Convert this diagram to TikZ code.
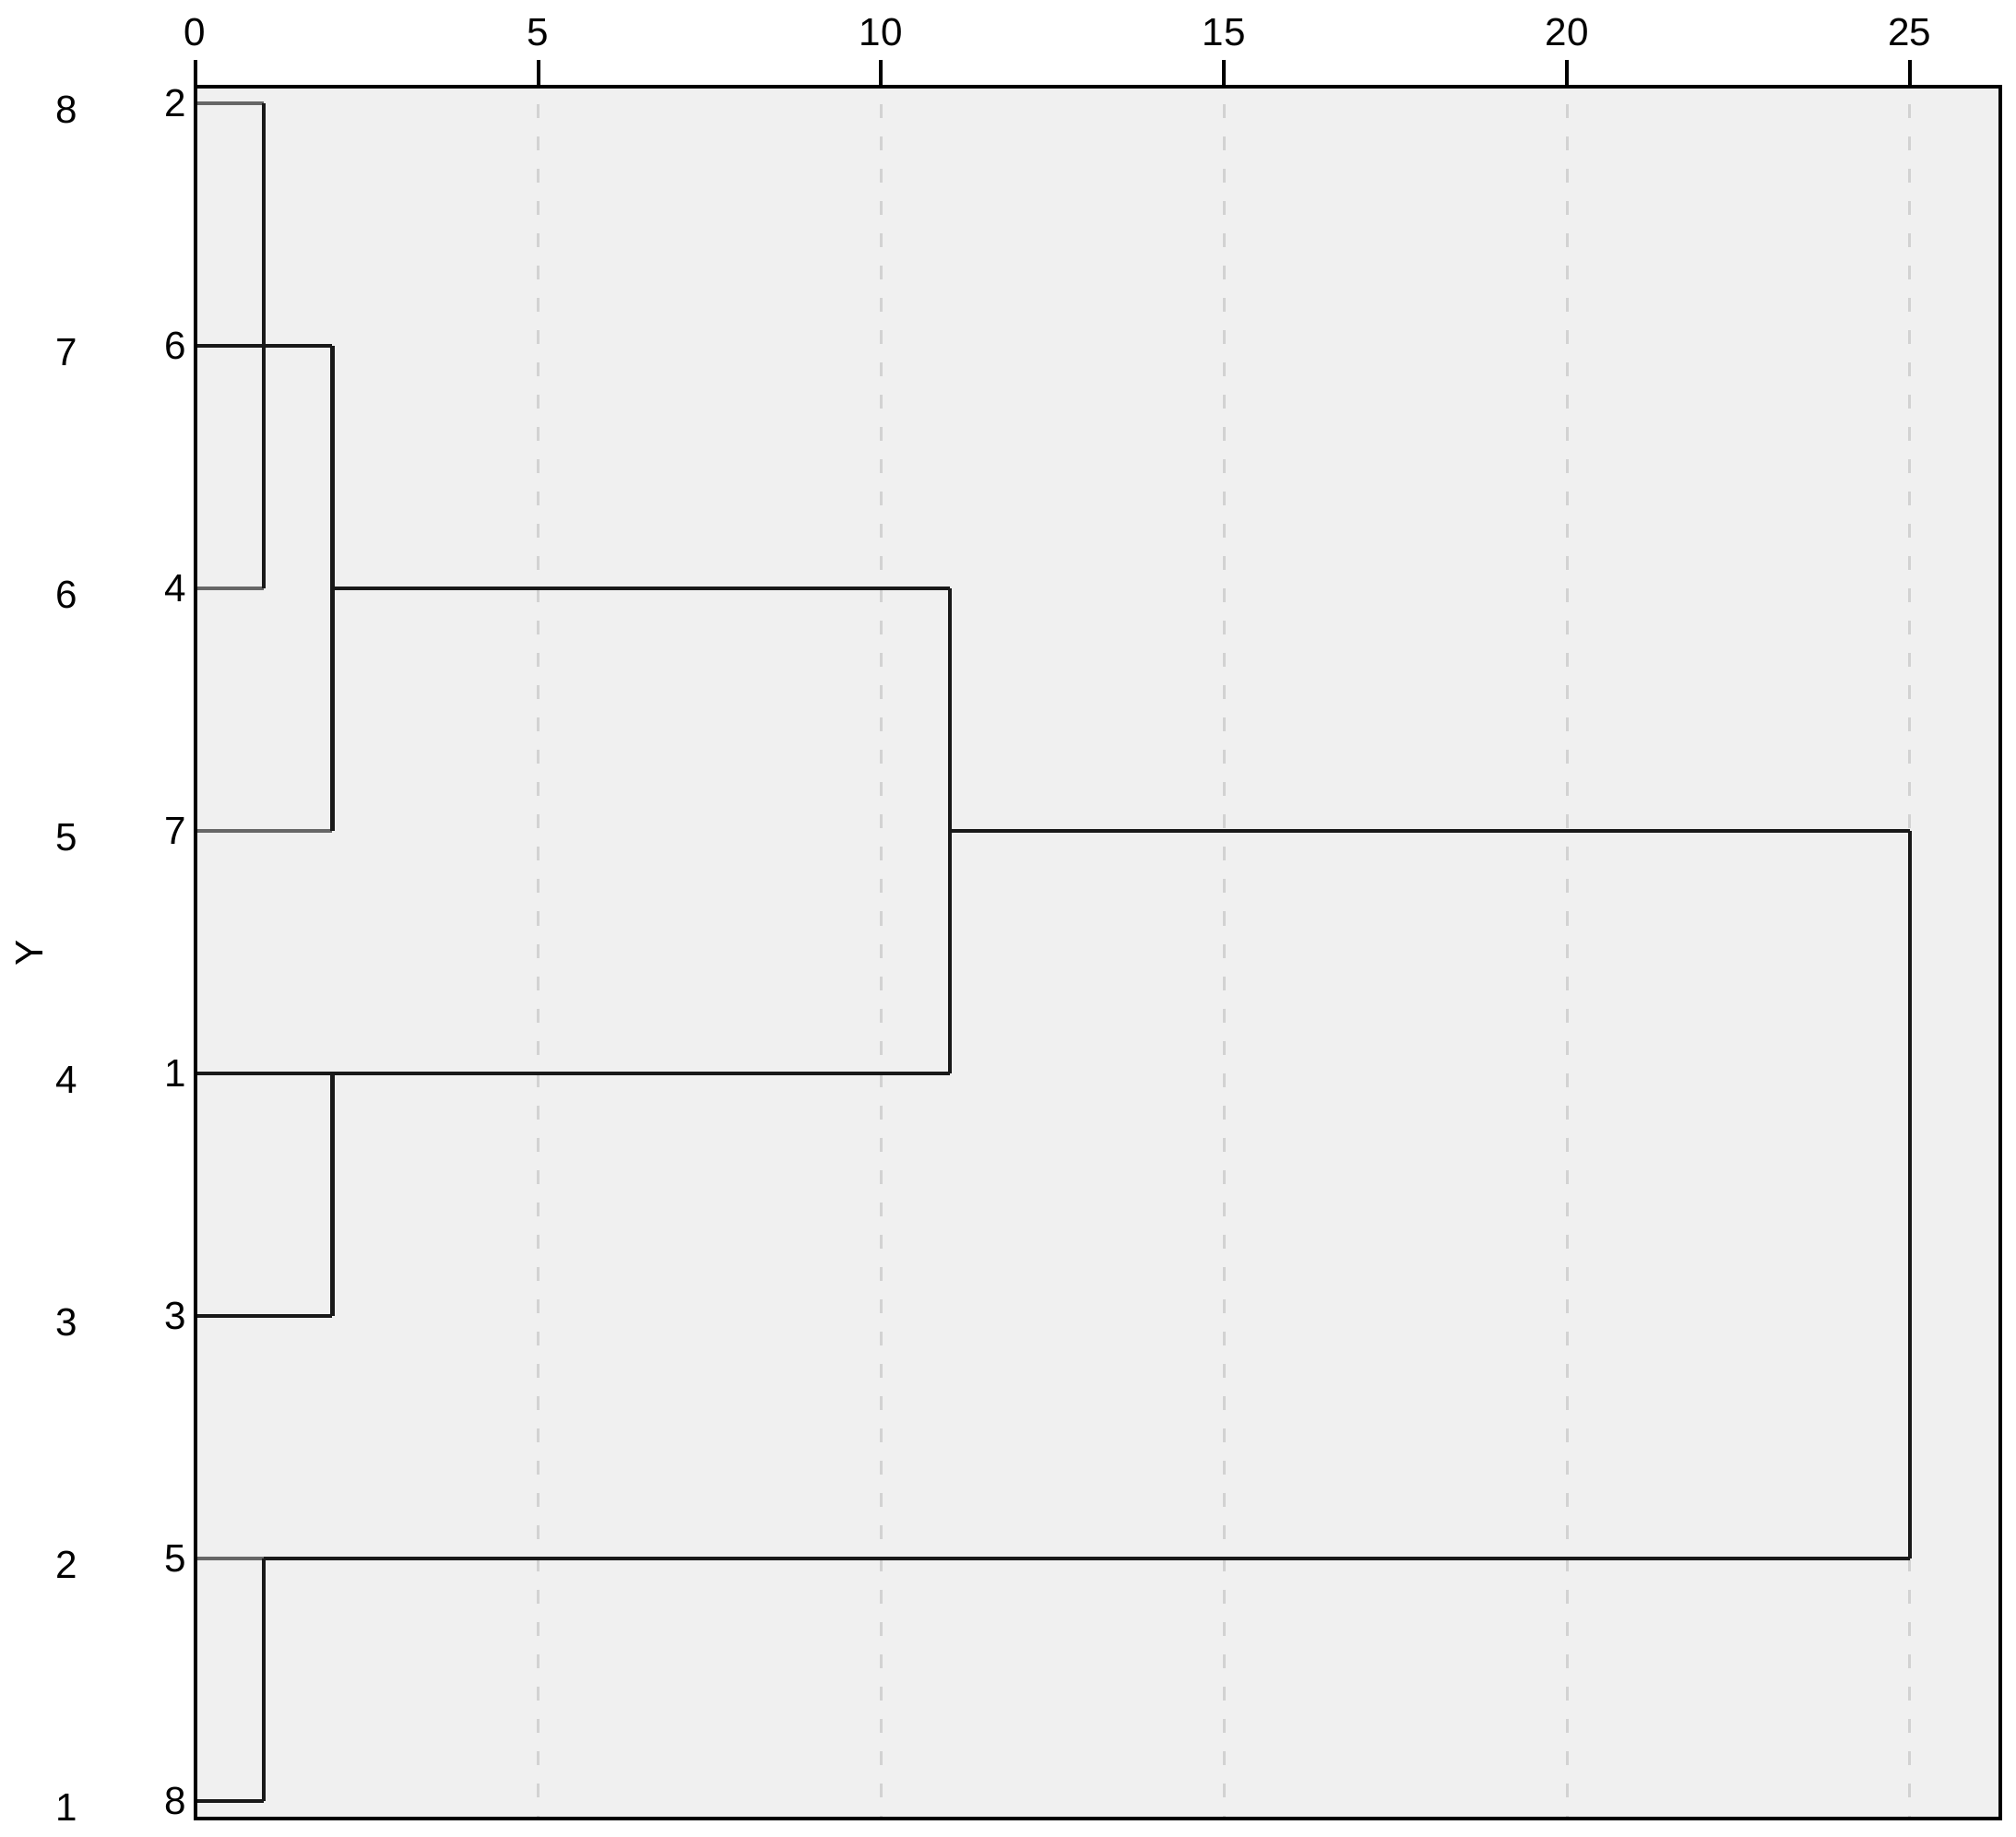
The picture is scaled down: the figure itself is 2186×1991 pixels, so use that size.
\documentclass[tikz,border=0pt]{standalone}
\usepackage{fontspec}
\setmainfont{Liberation Sans}
\definecolor{plotbg}{HTML}{F0F0F0}
\definecolor{gridc}{HTML}{D2D2D2}
\begin{document}
\begin{tikzpicture}[x=0.01cm,y=-0.01cm,
  lbl/.style={font=\fontsize{12}{14}\selectfont, inner sep=0pt},
  frame/.style={draw=black, line width=0.045cm, fill=plotbg},
  tick/.style={draw=black, line width=0.04cm},
  gridln/.style={draw=gridc, line width=0.03cm, dash pattern=on 0.15cm off 0.2cm},
  dend/.style={draw=black!90, line width=0.045cm},
  leafln/.style={draw=black!60, line width=0.045cm}]
\useasboundingbox (0,0) rectangle (2186,1991);
% plot area
\path[frame] (212,94) rectangle (2169,1972);
% gridlines
\foreach \v in {5,10,15,20,25}{
  \draw[gridln] ({211.7+74.37*\v},113) -- ({211.7+74.37*\v},1972);
}
% top ticks and labels
\foreach \v in {0,5,10,15,20,25}{
  \draw[tick] ({211.7+74.37*\v},65) -- ({211.7+74.37*\v},94);
  \node[lbl] (t\v) at ({211.7+74.37*\v},35) {\v};
}
% row coordinates (value 0)
\coordinate (r2) at (212,112);
\coordinate (r6) at (212,375);
\coordinate (r4) at (212,638);
\coordinate (r7) at (212,901);
\coordinate (r1) at (212,1164);
\coordinate (r3) at (212,1427);
\coordinate (r5) at (212,1690);
\coordinate (r8) at (212,1953);
% leaf labels
\foreach \c/\t in {r2/2,r6/6,r4/4,r7/7,r1/1,r3/3,r5/5,r8/8}{
  \node[lbl, anchor=east] (leaf\t) at ([xshift=-0.09cm]\c) {\t};
}
% case numbers on the left
\foreach \c/\t in {r2/8,r6/7,r4/6,r7/5,r1/4,r3/3,r5/2,r8/1}{
  \node[lbl] (case\t) at ([xshift=-1.4cm,yshift=-0.07cm]\c) {\t};
}
\node[lbl, rotate=90] (ylab) at (32,1033) {Y};
% dendrogram (x positions: 1 -> 286.1, 2 -> 360.4, 11 -> 1029.8, 25 -> 2071)
% leaf lines
\draw[leafln] (r2) -- (286.1,112);
\draw[dend] (r6) -- (360.4,375);
\draw[leafln] (r4) -- (286.1,638);
\draw[leafln] (r7) -- (360.4,901);
\draw[dend] (r1) -- (360.4,1164);
\draw[dend] (r3) -- (360.4,1427);
\draw[leafln] (r5) -- (286.1,1690);
\draw[dend] (r8) -- (286.1,1953);
% merges
\draw[dend] (286.1,112) -- (286.1,638);
\draw[dend] (360.4,375) -- (360.4,901);
\draw[dend] (360.4,638) -- (1029.8,638);
\draw[dend] (360.4,1164) -- (360.4,1427);
\draw[dend] (360.4,1164) -- (1029.8,1164);
\draw[dend] (1029.8,638) -- (1029.8,1164);
\draw[dend] (1029.8,901) -- (2071,901);
\draw[dend] (286.1,1690) -- (2071,1690);
\draw[dend] (286.1,1690) -- (286.1,1953);
\draw[dend] (2071,901) -- (2071,1690);
% redraw frame edge on top
\draw[draw=black, line width=0.045cm] (212,94) rectangle (2169,1972);
\end{tikzpicture}
\end{document}
